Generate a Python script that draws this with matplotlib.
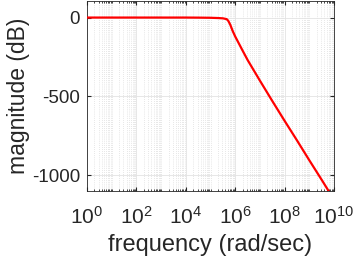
import numpy as np
import matplotlib
matplotlib.use("Agg")
import matplotlib.pyplot as plt
from matplotlib.ticker import LogLocator, FixedLocator, NullFormatter

# ── Data ──────────────────────────────────────────────────────────────────────
freq = [1, 1e3, 1e4, 3.2e4, 1e5, 2e5, 3.2e5, 4.5e5, 5.2e5, 6.3e5, 7.9e5,
        1e6, 1.26e6, 2e6, 3.2e6, 1e7, 3.2e7, 1e8, 3.2e8, 1e9, 3.2e9, 1e10]
mag_db = [0, 0, 0, -0.5, -1.5, -3, -5, -10, -20, -45, -85,
          -120, -150, -210, -270, -400, -530, -655, -780, -905, -1030, -1155]

x_ticks = [1e0, 1e2, 1e4, 1e6, 1e8, 1e10]
x_labels = ["$10^{0}$", "$10^{2}$", "$10^{4}$", "$10^{6}$", "$10^{8}$", "$10^{10}$"]
y_ticks = [-1000, -500, 0]

plt.rcParams["font.family"] = ["Liberation Sans", "DejaVu Sans"]
plt.rcParams["mathtext.fontset"] = "custom"
plt.rcParams["mathtext.rm"] = "Liberation Sans"
plt.rcParams["mathtext.it"] = "Liberation Sans"

fig = plt.figure(figsize=(3.54, 2.62), dpi=100)
ax = fig.add_axes([87 / 354, 1 - 191 / 262, (334 - 87) / 354, (191 - 1) / 262])

ax.plot(freq, mag_db, color="#ff0000", linewidth=1.6, zorder=3)

ax.set_xscale("log")
ax.set_xlim(1e0, 1e10)
ax.set_ylim(-1100, 105)

ax.xaxis.set_major_locator(FixedLocator(x_ticks))
ax.set_xticklabels(x_labels)
ax.xaxis.set_minor_locator(LogLocator(base=10, subs=np.arange(1, 10), numticks=100))
ax.xaxis.set_minor_formatter(NullFormatter())
ax.set_yticks(y_ticks)
ax.set_yticklabels(["-1000", "-500", "0"])

ax.grid(True, which="major", color="#e3e3e3", linewidth=0.6, linestyle="-", zorder=0)
ax.grid(True, which="minor", axis="x", color="#d0d0d0", linewidth=0.5,
        linestyle=(0, (1, 2)), zorder=0)

for s in ax.spines.values():
    s.set_color("#262626")
    s.set_linewidth(0.6)
ax.tick_params(which="both", direction="in", top=True, right=True,
               colors="#262626")
ax.tick_params(axis="y", labelsize=13.5, pad=5)
ax.tick_params(axis="x", labelsize=15, pad=11)
ax.tick_params(which="major", length=3)
ax.tick_params(which="minor", length=1.5)

ax.set_xlabel("frequency (rad/sec)", fontsize=17, color="#262626", labelpad=4)
ax.set_ylabel("magnitude (dB)", fontsize=16.5, color="#262626", labelpad=1)

fig.savefig("out.png", dpi=100)
